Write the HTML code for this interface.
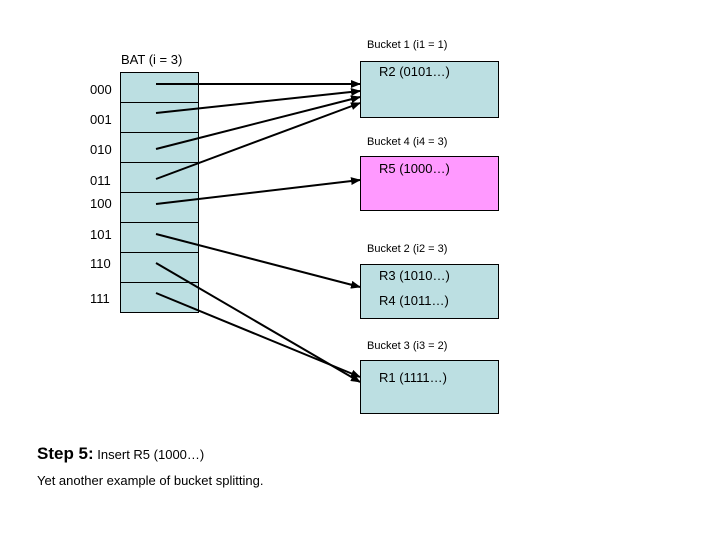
<!DOCTYPE html>
<html><head><style>
body{margin:0;width:720px;height:540px;background:#fff;position:relative;font-family:"Liberation Sans",Arial,sans-serif;overflow:hidden}
.t{position:absolute;white-space:nowrap;color:#000}
</style></head><body>
<svg width="720" height="540" style="position:absolute;left:0;top:0">
<defs><marker id="a" markerWidth="10" markerHeight="8" refX="9" refY="4" orient="auto" markerUnits="userSpaceOnUse"><path d="M0,0 L10,4 L0,8 z" fill="#000"/></marker></defs>
<g fill="#bcdfe2" stroke="#000" stroke-width="1">
<rect x="120.5" y="72.5" width="78" height="240"/>
<rect x="360.5" y="61.5" width="138" height="56"/>
<rect x="360.5" y="156.5" width="138" height="54" fill="#ff99ff"/>
<rect x="360.5" y="264.5" width="138" height="54"/>
<rect x="360.5" y="360.5" width="138" height="53"/>
</g>
<g stroke="#000" stroke-width="1">
<line x1="120" y1="102.5" x2="198" y2="102.5"/><line x1="120" y1="132.5" x2="198" y2="132.5"/>
<line x1="120" y1="162.5" x2="198" y2="162.5"/><line x1="120" y1="192.5" x2="198" y2="192.5"/>
<line x1="120" y1="222.5" x2="198" y2="222.5"/><line x1="120" y1="252.5" x2="198" y2="252.5"/>
<line x1="120" y1="282.5" x2="198" y2="282.5"/>
</g>
<g stroke="#000" stroke-width="2" marker-end="url(#a)">
<line x1="156" y1="84" x2="360" y2="84"/>
<line x1="156" y1="113" x2="360" y2="91"/>
<line x1="156" y1="149" x2="360" y2="97"/>
<line x1="156" y1="179" x2="360" y2="103"/>
<line x1="156" y1="204" x2="360" y2="180"/>
<line x1="156" y1="234" x2="360" y2="287"/>
<line x1="156" y1="263" x2="360" y2="382"/>
<line x1="156" y1="293" x2="360" y2="377"/>
</g>
</svg>
<div class="t" style="left:121px;top:52px;font-size:13px">BAT (i = 3)</div>
<div class="t" style="left:90px;top:82px;font-size:13px">000</div>
<div class="t" style="left:90px;top:112px;font-size:13px">001</div>
<div class="t" style="left:90px;top:142px;font-size:13px">010</div>
<div class="t" style="left:90px;top:173px;font-size:13px">011</div>
<div class="t" style="left:90px;top:196px;font-size:13px">100</div>
<div class="t" style="left:90px;top:227px;font-size:13px">101</div>
<div class="t" style="left:90px;top:256px;font-size:13px">110</div>
<div class="t" style="left:90px;top:291px;font-size:13px">111</div>
<div class="t" style="left:367px;top:39px;font-size:11px">Bucket 1 (i1 = 1)</div>
<div class="t" style="left:379px;top:64px;font-size:13px">R2 (0101…)</div>
<div class="t" style="left:367px;top:136px;font-size:11px">Bucket 4 (i4 = 3)</div>
<div class="t" style="left:379px;top:161px;font-size:13px">R5 (1000…)</div>
<div class="t" style="left:367px;top:243px;font-size:11px">Bucket 2 (i2 = 3)</div>
<div class="t" style="left:379px;top:268px;font-size:13px">R3 (1010…)</div>
<div class="t" style="left:379px;top:293px;font-size:13px">R4 (1011…)</div>
<div class="t" style="left:367px;top:340px;font-size:11px">Bucket 3 (i3 = 2)</div>
<div class="t" style="left:379px;top:370px;font-size:13px">R1 (1111…)</div>
<div class="t" style="left:37px;top:444px;font-size:13px"><b style="font-size:17px">Step 5:</b> Insert R5 (1000…)</div>
<div class="t" style="left:37px;top:473px;font-size:13px">Yet another example of bucket splitting.</div>
</body></html>
